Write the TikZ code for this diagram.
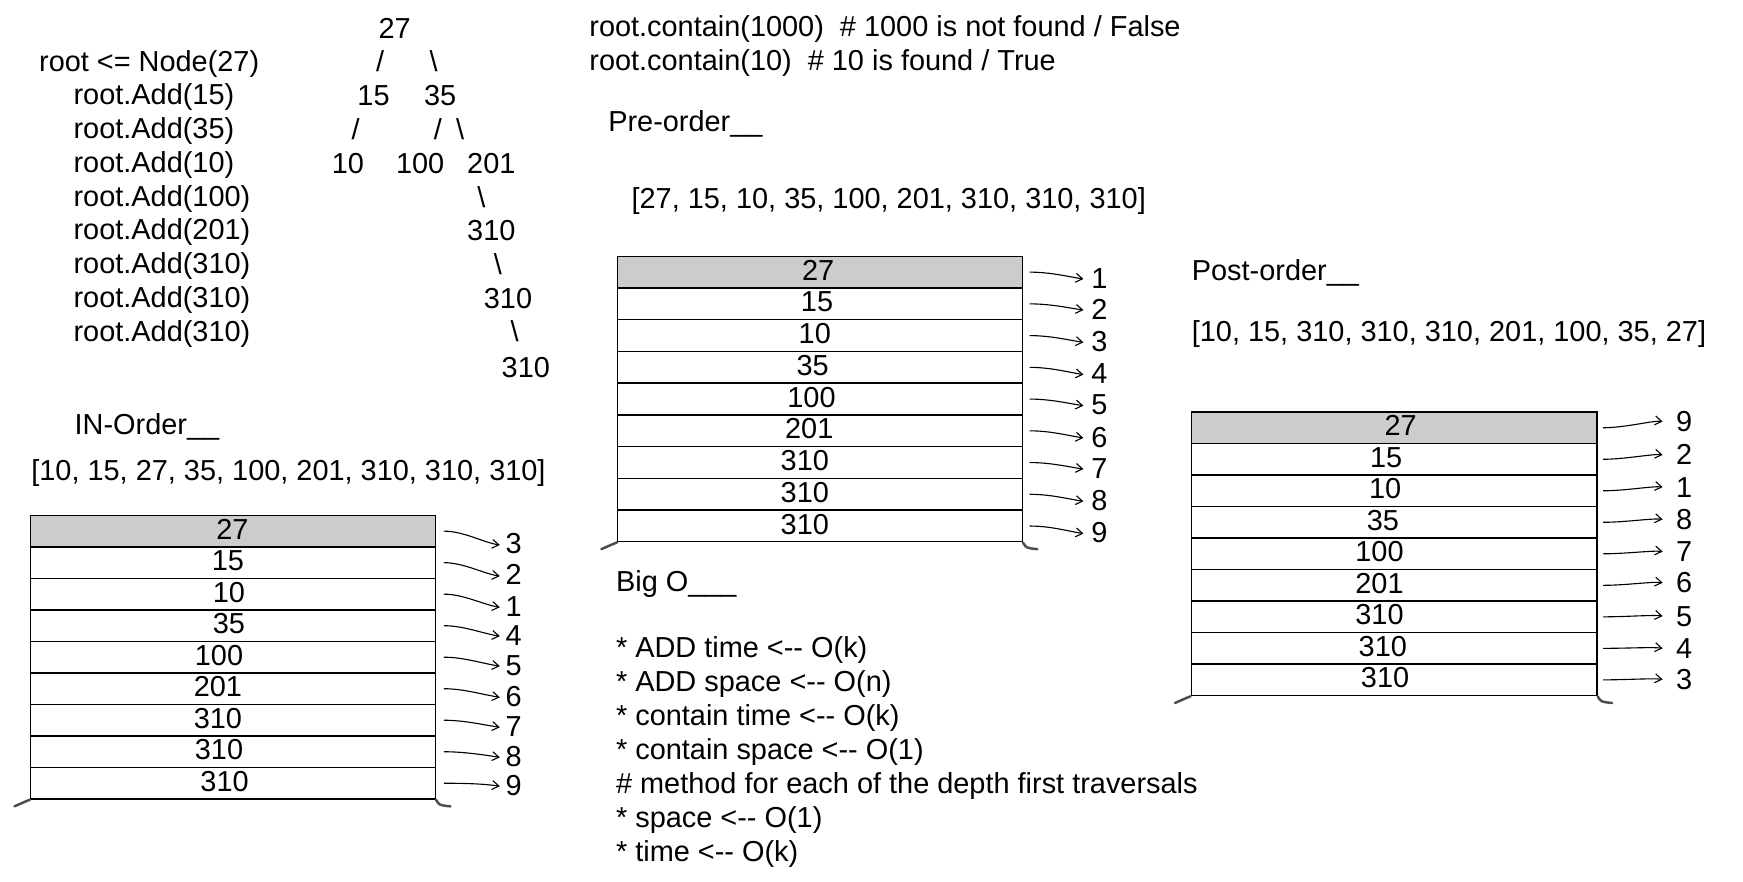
\documentclass[tikz,border=0pt]{standalone}
\usepackage{fontspec}
\setmainfont{Liberation Sans}
\usetikzlibrary{arrows.meta}

\newcommand{\sarrow}{<-\kern0pt-}

\begin{document}
\begin{tikzpicture}[x=1pt, y=-1pt,
    every node/.style={font=\fontsize{26}{31}\selectfont, inner sep=0pt, text height=1.45em, text depth=0pt},
    txt/.style={anchor=west},
    cell/.style={draw=black, line width=1.2pt, fill=white, text height=0pt, text depth=0pt, minimum width=364pt, minimum height=28.4pt, anchor=north west},
    topcell/.style={cell, fill=black!20},
    foot/.style={draw=black!70, line width=2.2pt, line cap=round},
    ptr/.style={-{Straight Barb[length=6pt,width=8pt]}, line width=1pt}]
    \useasboundingbox (0,0) rectangle (1568,793);

    % Code lines
    \node[txt] (root) at (35,57) {root <= Node(27)};
    \foreach \v [count=\i] in {15,35,10,100,201,310,310,310}
        \node[txt] (add\i) at (66,{87+(\i-1)*30.4}) {root.Add(\v)};

    % Tree
    \node (t27) at (355,27) {27};
    \node (s1) at (342,57) {/};
    \node (s2) at (390,57) {\textbackslash};
    \node (t15) at (336,88) {15};
    \node (t35) at (396,88) {35};
    \node (s3) at (320,118) {/};
    \node (s4) at (394,118) {/};
    \node (s5) at (414,118) {\textbackslash};
    \node (t10) at (313,149) {10};
    \node (t100) at (378,149) {100};
    \node (t201) at (442,149) {201};
    \node (s6) at (433,179) {\textbackslash};
    \node (t310a) at (442,209) {310};
    \node (s7) at (448,240) {\textbackslash};
    \node (t310b) at (457,270) {310};
    \node (s8) at (463,300) {\textbackslash};
    \node (t310c) at (473,332) {310};

    % Contain calls
    \node[txt] (miss) at (530,26) {root.contain(1000)\ \ \# 1000 is not found / False};
    \node[txt] (hit) at (530,56) {root.contain(10)\ \ \# 10 is found / True};

    % Headings and lists
    \node[txt] (prehead) at (547,111) {Pre-order\_\_};
    \node[txt] (prelist) at (568,180) {[27, 15, 10, 35, 100, 201, 310, 310, 310]};
    \node[txt] (posthead) at (1072,245) {Post-order\_\_};
    \node[txt] (postlist) at (1072,300) {[10, 15, 310, 310, 310, 201, 100, 35, 27]};
    \node[txt] (inhead) at (67,384) {IN-Order\_\_};
    \node[txt] (inlist) at (28,425) {[10, 15, 27, 35, 100, 201, 310, 310, 310]};

    % Big O
    \node[txt] (bighead) at (554,525) {Big O\_\_\_};
    \foreach \t [count=\i] in {{* ADD time \sarrow{} O(k)}, {* ADD space \sarrow{} O(n)},
            {* contain time \sarrow{} O(k)}, {* contain space \sarrow{} O(1)},
            {\# method for each of the depth first traversals},
            {* space \sarrow{} O(1)}, {* time \sarrow{} O(k)}}
        \node[txt] (big\i) at (554,{584+(\i-1)*30.6}) {\t};

    % In-order stack
    \node[topcell] (in1) at (27,463) {};
    \foreach \i in {2,...,9}
        \node[cell] (in\i) at (27,{463+(\i-1)*28.35}) {};
    \foreach \v/\cx [count=\i] in {27/209,15/205,10/206,35/206,100/197,201/196,310/196,310/197,310/202}
        \node (inv\i) at (\cx,0 |- in\i) {\v};
    \foreach \l/\ly [count=\i] in {3/491,2/519,1/547,4/573,5/600,6/628,7/655,8/682,9/708} {
        \node (inl\i) at (462,\ly) {\l};
        \draw[ptr, shorten <=7pt, shorten >=5pt] (in\i.east) .. controls +(25,0) and +(-20,-3) .. (inl\i.west);
    }
    \draw[foot] (in9.south west) .. controls +(-5,2) .. +(-14,6);
    \draw[foot] (in9.south east) .. controls +(3,5) .. +(13,6);

    % Pre-order stack
    \node[topcell] (pre1) at (555,230) {};
    \foreach \i in {2,...,9}
        \node[cell] (pre\i) at (555,{230+(\i-1)*28.55}) {};
    \foreach \v/\cx [count=\i] in {27/736,15/735,10/733,35/731,100/730,201/728,310/724,310/724,310/724}
        \node (prev\i) at (\cx,0 |- pre\i) {\v};
    \foreach \l/\ly [count=\i] in {1/252,2/280,3/309,4/338,5/366,6/395,7/423,8/452,9/481} {
        \node (prel\i) at (989,\ly) {\l};
        \draw[ptr, shorten <=6pt, shorten >=7pt] (pre\i.east) .. controls +(25,0) and +(-20,-3) .. (prel\i.west);
    }
    \draw[foot] (pre9.south west) .. controls +(-5,2) .. +(-14,6);
    \draw[foot] (pre9.south east) .. controls +(3,5) .. +(13,6);

    % Post-order stack
    \node[topcell, minimum width=365pt] (post1) at (1071,370) {};
    \foreach \i in {2,...,9}
        \node[cell, minimum width=365pt] (post\i) at (1071,{370+(\i-1)*28.35}) {};
    \foreach \v/\cx [count=\i] in {27/1260,15/1247,10/1246,35/1244,100/1241,201/1241,310/1241,310/1244,310/1246}
        \node (postv\i) at (\cx,0 |- post\i) {\v};
    \foreach \l/\ly [count=\i] in {9/381,2/411,1/440,8/469,7/498,6/526,5/556,4/585,3/613} {
        \node (postl\i) at (1515,\ly) {\l};
        \draw[ptr, shorten <=5pt, shorten >=12pt] (post\i.east) .. controls +(25,0) and +(-20,-3) .. (postl\i.west);
    }
    \draw[foot] (post9.south west) .. controls +(-5,2) .. +(-14,6);
    \draw[foot] (post9.south east) .. controls +(3,5) .. +(13,6);
\end{tikzpicture}
\end{document}
